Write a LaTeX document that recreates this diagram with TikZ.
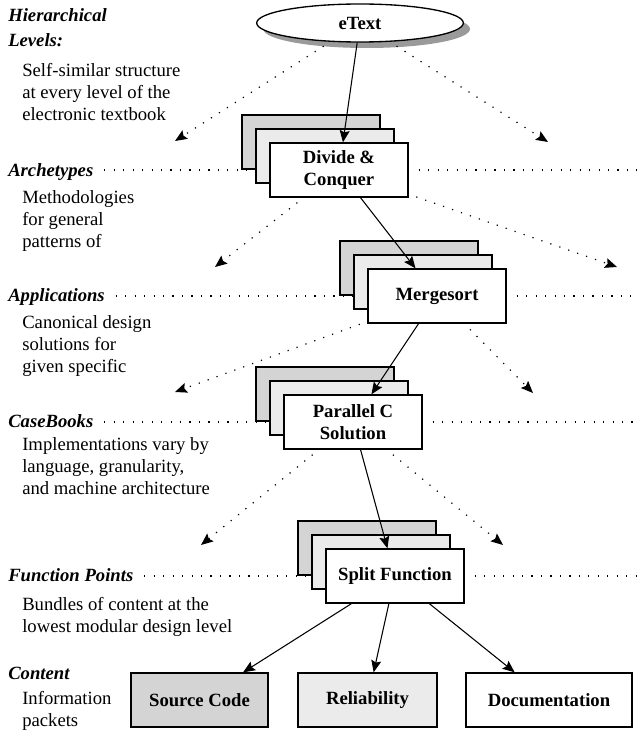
\documentclass[tikz,border=0pt]{standalone}
\usepackage{fontspec}
\setmainfont{Liberation Serif}
\usepackage{xcolor}
\usepackage{tikz}
\usetikzlibrary{arrows.meta,shadows,shapes.geometric}
\definecolor{cardA}{HTML}{EBEBEB}
\definecolor{cardB}{HTML}{D4D4D4}
\definecolor{shade}{HTML}{9A9A9A}
\tikzset{
  card/.style={draw=black, line width=1pt, fill=white, minimum width=103.5pt, minimum height=40.5pt,
    inner sep=0pt, align=center, font=\fontsize{14}{16.5}\selectfont\bfseries},
  leaf/.style={card, minimum width=#1},
  etext/.style={ellipse, draw=black, line width=1pt, fill=white, minimum width=155pt, minimum height=28.5pt,
    inner sep=0pt, font=\fontsize{14}{16.5}\selectfont\bfseries,
    drop shadow={shadow xshift=5pt, shadow yshift=-4.5pt, fill=shade, opacity=1}},
  head/.style={anchor=base west, inner sep=0pt, align=left, font=\fontsize{14}{19}\selectfont\bfseries\itshape},
  body/.style={anchor=base west, inner sep=0pt, align=left, font=\fontsize{14}{16.5}\selectfont},
  dots/.style={draw=black, line width=0.9pt, dash pattern=on 0.9pt off 6.2pt},
  arr/.style={draw=black, line width=0.8pt, -{Stealth[length=9pt,width=7.5pt,inset=1.5pt]}},
  dotarr/.style={dots, shorten <=6pt, -{Stealth[length=9pt,width=7.5pt,inset=1.5pt]}},
}
\begin{document}
\begin{tikzpicture}[x=0.75pt,y=-0.75pt]
  \useasboundingbox (0,0) rectangle (637,731);
  \coordinate (rim) at (637,0);

  % level labels on the left (base = last line)
  \node[head] (hier) at (8,47) {Hierarchical\\Levels:};
  \node[body] (hierb) at (22,121) {Self-similar structure\\at every level of the\\electronic textbook};
  \node[head] (arch) at (8,176) {Archetypes};
  \node[body] (archb) at (22,247) {Methodologies\\for general\\patterns of};
  \node[head] (app) at (8,301) {Applications};
  \node[body] (appb) at (22,372) {Canonical design\\solutions for\\given specific};
  \node[head] (case) at (8,427) {CaseBooks};
  \node[body] (caseb) at (22,494) {Implementations vary by\\language, granularity,\\and machine architecture};
  \node[head] (fp) at (8,581) {Function Points};
  \node[body] (fpb) at (22,632) {Bundles of content at the\\lowest modular design level};
  \node[head] (cont) at (8,679) {Content};
  \node[body] (contb) at (22,726) {Information\\packets};

  % root
  \node[etext] (et) at (360,23) {eText};

  % stacked cards behind each level
  \foreach \nm/\px/\py in {dc/339/170, ms/437/296, pc/353/422, sf/395/576} {
    \node[card,fill=cardB] (\nm2) at (\px-28,\py-28) {};
    \node[card,fill=cardA] (\nm1) at (\px-14,\py-14) {};
  }
  \node[card] (dc) at (339,170) {Divide \&\\Conquer};
  \node[card] (ms) at (437,296) {Mergesort};
  \node[card] (pc) at (353,422) {Parallel C\\Solution};
  \node[card] (sf) at (395,576) {Split Function};

  % content packets
  \node[leaf=102.75pt,fill=cardB] (src) at (199.5,700) {Source Code};
  \node[leaf=104.25pt,fill=cardA] (rel) at (367.5,700) {Reliability};
  \node[leaf=124.5pt] (doc) at (549,700) {Documentation};

  % level rules
  \foreach \hd/\nm in {arch/dc, app/ms, case/pc, fp/sf} {
    \draw[dots, shorten <=8pt] (\hd.east |- \nm) -- (\nm1.west |- \nm);
    \draw[dots, shorten <=7.5pt] (\nm.east) -- (\nm -| rim);
  }

  % free ends of the dotted branches
  \coordinate (t1) at (175,141);
  \coordinate (t2) at (548,142);
  \coordinate (t3) at (215,267);
  \coordinate (t4) at (617,267);
  \coordinate (t5) at (175,392);
  \coordinate (t6) at (533,393);
  \coordinate (t7) at (201,545);
  \coordinate (t8) at (503,545);

  \draw[dotarr] (et) -- (t1);
  \draw[dotarr] (et) -- (t2);
  \draw[dotarr] (dc) -- (t3);
  \draw[dotarr] (dc) -- (t4);
  \draw[dotarr] (ms) -- (t5);
  \draw[dotarr] (ms) -- (t6);
  \draw[dotarr] (pc) -- (t7);
  \draw[dotarr] (pc) -- (t8);

  % main path
  \draw[arr] (et) -- (dc);
  \draw[arr] (dc) -- (ms);
  \draw[arr] (ms) -- (pc);
  \draw[arr] (pc) -- (sf);
  \draw[arr] (sf) -- (src);
  \draw[arr] (sf) -- (rel);
  \draw[arr] (sf) -- (doc);
\end{tikzpicture}
\end{document}
